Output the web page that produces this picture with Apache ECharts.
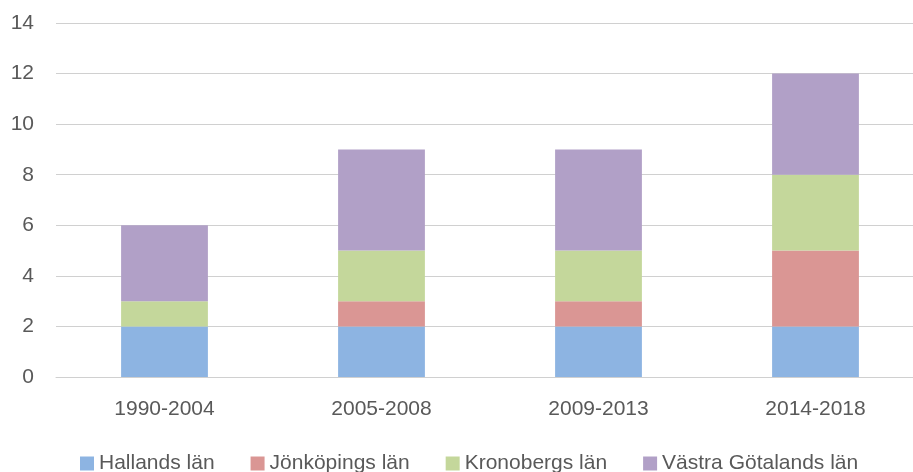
<!DOCTYPE html>
<html>
<head>
<meta charset="utf-8">
<script src="https://cdn.jsdelivr.net/npm/echarts@6/dist/echarts.min.js"></script>
<style>html,body{margin:0;padding:0;background:#fff;overflow:hidden;width:913px;height:472px;}#c{width:925px;height:472px;}</style>
</head>
<body>
<div id="c"></div>
<script>
const categories = ['1990-2004', '2005-2008', '2009-2013', '2014-2018'];
const hallands = [2, 2, 2, 2];
const jonkopings = [0, 1, 1, 3];
const kronobergs = [1, 2, 2, 3];
const vastra = [3, 4, 4, 4];
const seriesNames = ['Hallands län', 'Jönköpings län', 'Kronobergs län', 'Västra Götalands län'];
const colors = ['#8DB4E2', '#DA9694', '#C4D79B', '#B1A0C7'];
const yTicks = {min: 0, max: 14, interval: 2};

const FONT = '"Liberation Sans", Arial, sans-serif';
const chart = echarts.init(document.getElementById('c'), null, {renderer: 'canvas'});
const data = [hallands, jonkopings, kronobergs, vastra];
chart.setOption({
  animation: false,
  backgroundColor: '#ffffff',
  color: colors,
  grid: {left: 56, top: 23, right: 1, bottom: 95, containLabel: false},
  legend: {
    left: 80, top: 453, padding: 0, itemWidth: 14, itemHeight: 14, itemGap: 36,
    icon: 'rect',
    textStyle: {color: '#595959', fontSize: 21, fontFamily: FONT},
    data: seriesNames
  },
  xAxis: {
    type: 'category', data: categories,
    axisLine: {lineStyle: {color: '#D0D0D0', width: 1}},
    axisTick: {show: false},
    axisLabel: {color: '#595959', fontSize: 21, fontFamily: FONT, margin: 22}
  },
  yAxis: {
    type: 'value', min: yTicks.min, max: yTicks.max, interval: yTicks.interval,
    axisLine: {show: false}, axisTick: {show: false},
    splitLine: {lineStyle: {color: '#D0D0D0', width: 1}},
    axisLabel: {color: '#595959', fontSize: 21, fontFamily: FONT, margin: 22}
  },
  series: seriesNames.map((n, i) => ({
    name: n, type: 'bar', stack: 'total', barWidth: '40%',
    data: data[i], itemStyle: {color: colors[i]}
  }))
});
</script>
</body>
</html>
